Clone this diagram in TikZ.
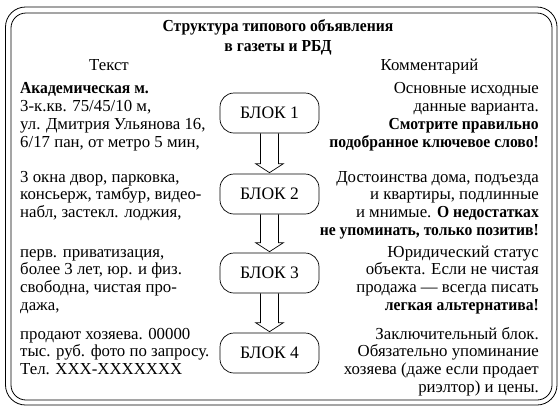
\documentclass[tikz,border=0pt]{standalone}
\usepackage{fontspec}
\setmainfont{Liberation Serif}[BoldFeatures={FakeStretch=0.93}]
\newcommand\blockarrow[2]{%
  \draw[hollow] ([xshift=-9pt]#1.south) -- ([xshift=-9pt,yshift=10pt]#2.north)
    -- ([xshift=-14pt,yshift=10pt]#2.north) -- ([yshift=1pt]#2.north)
    -- ([xshift=14pt,yshift=10pt]#2.north) -- ([xshift=9pt,yshift=10pt]#2.north)
    -- ([xshift=9pt]#1.south);}
\begin{document}
\begin{tikzpicture}[x=1pt,y=-1pt,
  body/.style={inner sep=0pt, font=\fontsize{16.8}{17.9}\selectfont},
  lefttext/.style={body, align=left, anchor=base west},
  righttext/.style={body, align=right, anchor=base east},
  headtext/.style={inner sep=0pt, anchor=base, font=\fontsize{16.8}{20}\selectfont},
  titletext/.style={inner sep=0pt, anchor=base, font=\bfseries\fontsize{16.8}{20}\selectfont},
  blockbox/.style={draw, line width=0.7pt, rounded corners=14pt, minimum width=99pt,
    minimum height=40pt, inner sep=0pt, font=\fontsize{17.5}{20}\selectfont},
  hollow/.style={line width=0.7pt, line join=miter},
  frame/.style={line width=0.8pt}]
\useasboundingbox (0,0) rectangle (560,410);
\draw[frame, rounded corners=20pt] (5.5,7) rectangle (557,405);
\draw[frame, rounded corners=15pt] (11,13) rectangle (552,400);

\node[titletext] (t1) at (278,31) {Структура типового объявления};
\node[titletext] (t2) at (278,51) {в газеты и РБД};
\node[headtext] (h1) at (109,70.5) {Текст};
\node[headtext] (h2) at (429.5,70.5) {Комментарий};

\node[blockbox] (b1) at (269.5,113) {БЛОК 1};
\node[blockbox] (b2) at (269.5,194) {БЛОК 2};
\node[blockbox] (b3) at (269.5,273) {БЛОК 3};
\node[blockbox] (b4) at (269.5,353) {БЛОК 4};
\blockarrow{b1}{b2}
\blockarrow{b2}{b3}
\blockarrow{b3}{b4}

% base anchor of a multi-line node = baseline of its last line
\node[lefttext] (l1) at (20,147.2) {\textbf{Академическая м.}\\3-к.кв. 75/45/10 м,\\ул. Дмитрия Ульянова 16,\\6/17 пан, от метро 5 мин,};
\node[lefttext] (l2) at (20,217.8) {3 окна двор, парковка,\\консьерж, тамбур, видео-\\набл, застекл. лоджия,};
\node[lefttext] (l3) at (20,310.7) {перв. приватизация,\\более 3 лет, юр. и физ.\\свободна, чистая про-\\дажа,};
\node[lefttext] (l4) at (20,374.8) {продают хозяева. 00000\\тыс. руб. фото по запросу.\\Тел. XXX-XXXXXXX};

\node[righttext] (r1) at (539,147.2) {Основные исходные\\данные варианта.\\\textbf{Смотрите правильно}\\\textbf{подобранное ключевое слово!}};
\node[righttext] (r2) at (539,235.7) {Достоинства дома, подъезда\\и квартиры, подлинные\\и мнимые. \textbf{О недостатках}\\\textbf{не упоминать, только позитив!}};
\node[righttext] (r3) at (539,310.7) {Юридический статус\\объекта. Если не чистая\\продажа — всегда писать\\\textbf{легкая альтернатива!}};
\node[righttext] (r4) at (539,392.7) {Заключительный блок.\\Обязательно упоминание\\хозяева (даже если продает\\риэлтор) и цены.};
\end{tikzpicture}
\end{document}
